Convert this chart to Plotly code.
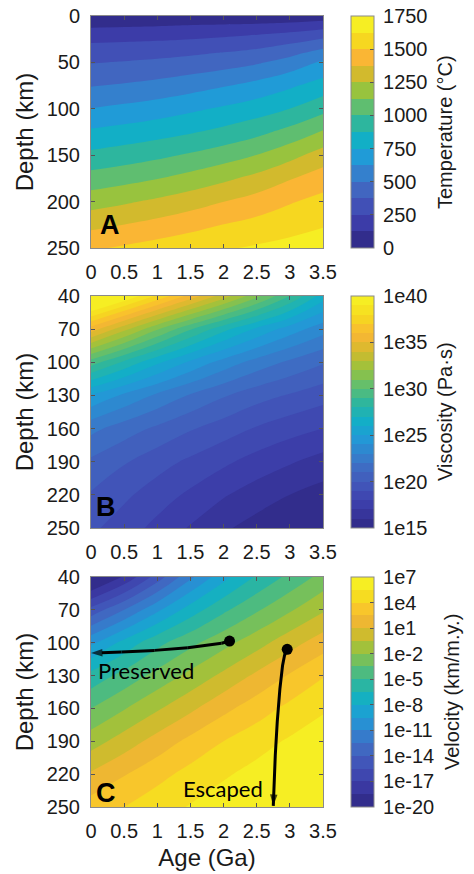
import plotly.graph_objects as go
from plotly.colors import sample_colorscale

# ---------------- data ----------------
ages = [0, 0.5, 1, 1.5, 2, 2.5, 3, 3.5]

depth_T = [0, 5, 10, 20, 30, 40, 50, 75, 100, 125, 150, 175, 200, 225, 250]
temperature = [
    [0, 0, 0, 0, 0, 0, 0, 0],
    [52, 55, 58, 64, 70, 79, 96, 125],
    [104, 110, 117, 127, 135, 146, 166, 194],
    [184, 191, 200, 212, 228, 248, 277, 325],
    [256, 264, 274, 289, 307, 332, 375, 443],
    [313, 324, 338, 357, 381, 411, 464, 552],
    [369, 382, 398, 419, 446, 485, 551, 645],
    [493, 513, 538, 573, 615, 665, 730, 804],
    [628, 656, 687, 726, 768, 814, 876, 961],
    [771, 797, 827, 864, 909, 965, 1040, 1139],
    [905, 936, 972, 1016, 1066, 1127, 1210, 1306],
    [1051, 1083, 1121, 1169, 1224, 1287, 1366, 1440],
    [1196, 1232, 1273, 1321, 1374, 1427, 1489, 1538],
    [1341, 1377, 1415, 1458, 1503, 1541, 1580, 1616],
    [1483, 1517, 1551, 1584, 1613, 1640, 1664, 1684],
]

depth_v = [40, 70, 100, 130, 160, 190, 220, 250]
log_viscosity = [
    [42.0, 40.0, 37.8, 35.6, 33.5, 31.3, 29.0, 26.5],
    [35.5, 33.3, 31.1, 29.1, 27.3, 25.8, 24.5, 23.4],
    [29.5, 27.8, 26.2, 24.8, 23.6, 22.6, 21.8, 21.1],
    [24.9, 23.8, 22.8, 21.9, 21.1, 20.4, 19.9, 19.4],
    [22.3, 21.5, 20.8, 20.1, 19.5, 18.9, 18.4, 18.0],
    [20.8, 20.1, 19.4, 18.8, 18.2, 17.6, 17.1, 16.6],
    [19.9, 19.2, 18.5, 17.8, 17.1, 16.5, 16.0, 15.6],
    [19.2, 18.5, 17.7, 16.9, 16.15, 15.6, 15.3, 15.1],
]
log_velocity = [
    [-21.0, -18.3, -14.8, -11.3, -8.5, -6.3, -4.6, -3.0],
    [-15.0, -12.5, -9.8, -7.3, -5.3, -3.7, -2.2, -0.7],
    [-9.8, -7.5, -5.45, -3.9, -2.5, -1.1, 0.4, 1.8],
    [-6.0, -4.5, -3.0, -1.6, -0.15, 1.3, 2.65, 3.9],
    [-3.5, -2.1, -0.7, 0.7, 2.1, 3.3, 4.4, 5.3],
    [-1.2, 0.2, 1.6, 2.9, 4.0, 4.9, 5.7, 6.4],
    [1.2, 2.4, 3.5, 4.5, 5.3, 6.0, 6.7, 7.2],
    [3.2, 4.0, 4.9, 5.6, 6.3, 6.9, 7.4, 7.9],
]

age_ticks = [0, 0.5, 1, 1.5, 2, 2.5, 3, 3.5]
age_ticklabels = ["0", "0.5", "1", "1.5", "2", "2.5", "3", "3.5"]
depth_ticks_A = [0, 50, 100, 150, 200, 250]
depth_ticks_BC = [40, 70, 100, 130, 160, 190, 220, 250]

temp_ticks = [0, 250, 500, 750, 1000, 1250, 1500, 1750]
temp_ticklabels = ["0", "250", "500", "750", "1000", "1250", "1500", "1750"]
visc_ticks = [15, 20, 25, 30, 35, 40]
visc_ticklabels = ["1e15", "1e20", "1e25", "1e30", "1e35", "1e40"]
vel_ticks = [-20, -17, -14, -11, -8, -5, -2, 1, 4, 7]
vel_ticklabels = ["1e-20", "1e-17", "1e-14", "1e-11", "1e-8", "1e-5", "1e-2", "1e1", "1e4", "1e7"]

# contour band edges of each panel: first, last, step
temp_levels = (0, 1750, 125)
visc_levels = (15, 40, 1)
vel_levels = (-20, 7, 1.5)

preserved_age = [2.09, 1.97, 1.46, 0.96, 0.46, 0.0]
preserved_depth = [98.5, 100.5, 104.5, 107.0, 108.5, 109.5]
escaped_age = [2.96, 2.92, 2.89, 2.85, 2.81, 2.78, 2.75]
escaped_depth = [106.0, 111.5, 120.7, 142.0, 172.0, 203.0, 249.0]

# ---------------- style ----------------
# parula-like map, with the muted tones of the printed figure
cmap_rgb = [
    (50, 45, 140), (60, 60, 168), (65, 80, 182), (65, 102, 192), (52, 128, 205),
    (32, 155, 215), (18, 175, 198), (45, 182, 158), (95, 190, 112), (152, 195, 62),
    (210, 186, 45), (250, 182, 52), (246, 215, 32), (246, 238, 35),
]
colorscale = [[i / (len(cmap_rgb) - 1), "rgb(%d,%d,%d)" % c] for i, c in enumerate(cmap_rgb)]


def stepped_scale(nbands):
    cols = sample_colorscale(colorscale, [k / (nbands - 1) for k in range(nbands)])
    out = []
    for k, c in enumerate(cols):
        out.append([k / nbands, c])
        out.append([(k + 1) / nbands, c])
    return out


FONT = "Liberation Sans, Arial, sans-serif"
TEXT = "#1a1a1a"
FRAME = "#8a8a8a"
W, H = 474, 874

x0, x1 = 91 / W, 323 / W
panels = {"A": (16, 248), "B": (296, 528), "C": (577, 807)}  # pixel top/bottom of plot areas


def ydom(top, bottom):
    return [1 - bottom / H, 1 - top / H]


fig = go.Figure()

specs = [
    ("A", "x", "y", depth_T, temperature, temp_levels, temp_ticks, temp_ticklabels, "Temperature (°C)", 445),
    ("B", "x2", "y2", depth_v, log_viscosity, visc_levels, visc_ticks, visc_ticklabels, "Viscosity (Pa·s)", 445),
    ("C", "x3", "y3", depth_v, log_velocity, vel_levels, vel_ticks, vel_ticklabels, "Velocity (km/m.y.)", 452),
]

for key, xa, ya, depths, z, (lo, hi, step), tv, tt, cbtitle, cbx in specs:
    top, bottom = panels[key]
    nb = int(round((hi - lo) / step))
    fig.add_trace(go.Contour(
        x=ages, y=depths, z=z, colorscale=colorscale, showscale=False,
        contours=dict(coloring="fill", showlines=False, start=lo + step, end=hi - step, size=step),
        line=dict(width=0, smoothing=1.3),
        xaxis=xa, yaxis=ya, hoverinfo="skip",
    ))
    # colour bar (discrete bands, exact range lo..hi)
    fig.add_trace(go.Scatter(
        x=[None], y=[None], mode="markers", xaxis=xa, yaxis=ya, showlegend=False, hoverinfo="skip",
        marker=dict(
            color=[lo], colorscale=stepped_scale(nb), cmin=lo, cmax=hi, showscale=True,
            colorbar=dict(
                x=351 / W, xanchor="left", xpad=0,
                y=1 - (top + bottom) / 2 / H, yanchor="middle", ypad=0,
                thickness=23, thicknessmode="pixels",
                len=bottom - top, lenmode="pixels",
                outlinecolor=FRAME, outlinewidth=1,
                ticks="inside", ticklen=4, tickcolor="#555555",
                tickvals=tv, ticktext=["\u2009" + t for t in tt],
                tickfont=dict(family=FONT, size=20, color=TEXT),
            ),
        ),
    ))
    fig.add_annotation(text=cbtitle, x=cbx / W, y=1 - (top + bottom) / 2 / H, xref="paper", yref="paper",
                       textangle=-90, showarrow=False, xanchor="center", yanchor="middle",
                       font=dict(family=FONT, size=20, color=TEXT))


def path_traces(xs, ys):
    n = len(xs)
    line = go.Scatter(
        x=xs, y=ys, mode="lines+markers", xaxis="x3", yaxis="y3",
        line=dict(color="black", width=3),
        marker=dict(color="black", symbol=["circle"] * (n - 1) + ["arrow"],
                    size=[0] * (n - 1) + [12], angleref="previous", line=dict(width=0)),
        showlegend=False, hoverinfo="skip",
    )
    dot = go.Scatter(
        x=xs[:1], y=ys[:1], mode="markers", xaxis="x3", yaxis="y3",
        marker=dict(color="black", symbol="circle", size=11, line=dict(width=0)),
        showlegend=False, hoverinfo="skip",
    )
    return [line, dot]


for tr in path_traces(preserved_age, preserved_depth) + path_traces(escaped_age, escaped_depth):
    fig.add_trace(tr)

axis_common = dict(
    showline=True, mirror="ticks", linecolor=FRAME, linewidth=1,
    ticks="inside", ticklen=4, tickcolor="#555555",
    showgrid=False, zeroline=False, automargin=False,
    tickfont=dict(family=FONT, size=20, color=TEXT),
)

layout = dict(
    width=W, height=H, margin=dict(l=0, r=0, t=0, b=0, autoexpand=False),
    paper_bgcolor="white", plot_bgcolor="white", showlegend=False,
    font=dict(family=FONT, color=TEXT),
)
for i, (key, (top, bottom)) in enumerate(panels.items()):
    sfx = "" if i == 0 else str(i + 1)
    layout["xaxis" + sfx] = dict(
        axis_common, domain=[x0, x1], anchor="y" + sfx, range=[0, 3.5],
        tickvals=age_ticks, ticktext=age_ticklabels, ticklabelstandoff=6,
    )
    layout["yaxis" + sfx] = dict(
        axis_common, domain=ydom(top, bottom), anchor="x" + sfx,
        range=[250, 0] if key == "A" else [250, 40],
        tickvals=depth_ticks_A if key == "A" else depth_ticks_BC,
        ticklabelstandoff=6,
        title=dict(text="Depth (km)", font=dict(family=FONT, size=24, color=TEXT), standoff=6),
    )
layout["xaxis3"]["title"] = dict(text="Age (Ga)", font=dict(family=FONT, size=24, color=TEXT), standoff=8)

fig.update_layout(**layout)

letters = [("A", "x", "y", 0.29, 225), ("B", "x2", "y2", 0.23, 231), ("C", "x3", "y3", 0.22, 237)]
for txt, xr, yr, xv, yv in letters:
    fig.add_annotation(text="<b>%s</b>" % txt, x=xv, y=yv, xref=xr, yref=yr, showarrow=False,
                       xanchor="center", yanchor="middle",
                       font=dict(family=FONT, size=27, color="black"))

fig.add_annotation(text="Preserved", x=0.075, y=125, xref="x3", yref="y3", showarrow=False,
                   xanchor="left", yanchor="middle", font=dict(family="Lato, sans-serif", size=22, color="black"))
fig.add_annotation(text="Escaped", x=1.99, y=233.5, xref="x3", yref="y3", showarrow=False,
                   xanchor="center", yanchor="middle", font=dict(family="Lato, sans-serif", size=22, color="black"))

fig.write_html("out.html", config={"displayModeBar": False},
               post_script="document.body.style.margin='0';")
